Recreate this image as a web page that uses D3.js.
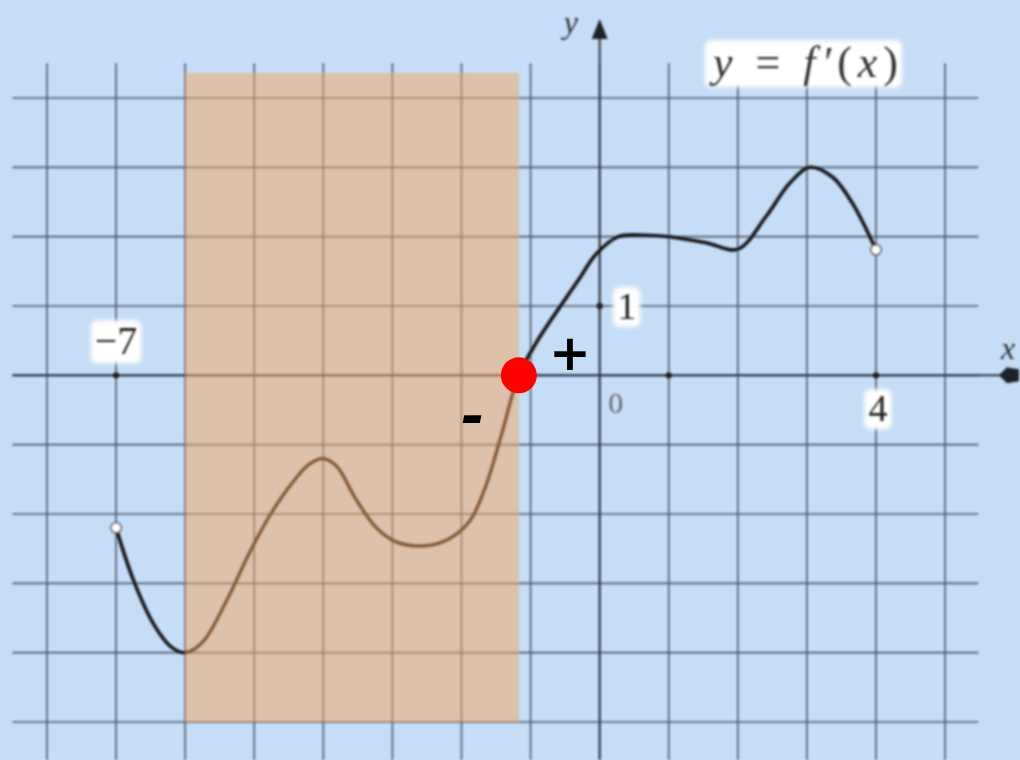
<!DOCTYPE html>
<html>
<head>
<meta charset="utf-8">
<script src="https://cdn.jsdelivr.net/npm/d3@7"></script>
<style>
  html, body { margin: 0; padding: 0; background: #c6ddf7; }
  svg { display: block; }
</style>
</head>
<body>
<div id="chart"></div>
<script>
// grid values
const xTicks = d3.range(-8, 6);   // vertical grid lines
const yTicks = d3.range(-5, 5);   // horizontal grid lines

// graph of y = f'(x)
const curveX = [-7, -6.75, -6.45, -6.2, -6, -5.75, -5.4, -5.07, -4.75, -4.45, -4.2, -4.0, -3.8, -3.55, -3.25, -2.95, -2.55, -2.2, -1.88, -1.65, -1.42, -1.17, -0.9, -0.31, -0.05, 0.27, 0.67, 1.0, 1.55, 2.0, 2.4, 2.75, 3.04, 3.37, 3.66, 4.0];
const curveY = [-2.2, -2.95, -3.6, -3.92, -4.0, -3.85, -3.25, -2.56, -1.98, -1.55, -1.28, -1.2, -1.32, -1.75, -2.18, -2.4, -2.46, -2.37, -2.1, -1.6, -0.85, 0, 0.5, 1.37, 1.75, 2.0, 2.02, 2.0, 1.91, 1.82, 2.28, 2.77, 3.0, 2.86, 2.48, 1.81];

// shaded interval and the zero of f'
const shade = { from: -6, to: -1.17, bottom: -5, top: 4.36 };
const zeroX = -1.17;

// labels on the axes
const axisLabels = [
  { text: "\u22127", x: -7, y: 0, dx: 0, dy: -21, size: 40, halo: true, color: "#222" },
  { text: "1", x: 0, y: 1, dx: 27, dy: 13, size: 38, halo: true, color: "#222" },
  { text: "4", x: 4, y: 0, dx: 2, dy: 46, size: 38, halo: true, color: "#222" },
  { text: "0", x: 0, y: 0, dx: 16, dy: 38, size: 30, halo: false, color: "#666" }
];

const width = 1020;
const height = 760;
const serif = "Liberation Serif, DejaVu Serif, serif";

const x = d3.scaleLinear().domain([-8, 4]).range([47, 876]);
const y = d3.scaleLinear().domain([-5, 4]).range([722, 98]);

const svg = d3.select("#chart").append("svg")
  .attr("width", width)
  .attr("height", height);

const defs = svg.append("defs");
defs.append("filter").attr("id", "soft")
  .attr("x", "-5%").attr("y", "-5%").attr("width", "110%").attr("height", "110%")
  .append("feGaussianBlur").attr("stdDeviation", 0.8);
defs.append("filter").attr("id", "glow")
  .attr("x", "-20%").attr("y", "-20%").attr("width", "140%").attr("height", "140%")
  .append("feGaussianBlur").attr("stdDeviation", 2);

svg.append("rect").attr("width", width).attr("height", height).attr("fill", "#c6ddf7");

const g = svg.append("g").attr("filter", "url(#soft)");

// grid
const grid = g.append("g").attr("stroke", "#4d5b6b").attr("stroke-width", 1.6);
grid.selectAll(".v").data(xTicks).enter().append("line")
  .attr("x1", d => x(d)).attr("x2", d => x(d))
  .attr("y1", y(4.5)).attr("y2", height);
grid.selectAll(".h").data(yTicks).enter().append("line")
  .attr("x1", x(-8.5)).attr("x2", x(5.48))
  .attr("y1", d => y(d)).attr("y2", d => y(d));

// axes
const axes = g.append("g").attr("stroke", "#2a3440").attr("stroke-width", 2);
axes.append("line").attr("x1", x(-8.5)).attr("x2", x(5.8)).attr("y1", y(0)).attr("y2", y(0));
axes.append("line").attr("x1", x(0)).attr("x2", x(0)).attr("y1", height).attr("y2", y(4.85));

// arrow heads
g.append("path")
  .attr("d", `M${x(0)},${y(4.85) - 20} L${x(0) + 8},${y(4.85)} L${x(0) - 8},${y(4.85)} Z`)
  .attr("fill", "#1d232b");
g.append("path")
  .attr("d", `M${x(5.78)},${y(0)} L${x(5.78) + 8},${y(0) - 8} L${x(5.78) + 20},${y(0) - 6} L${x(5.78) + 20},${y(0) + 6} L${x(5.78) + 8},${y(0) + 8} Z`)
  .attr("fill", "#1d232b");

// unit ticks
g.selectAll(".tick").data([[-7, 0], [1, 0], [0, 1], [4, 0]]).enter().append("circle")
  .attr("cx", d => x(d[0])).attr("cy", d => y(d[1])).attr("r", 3.2)
  .attr("fill", "#1d232b");

// curve
const pts = curveX.map((d, i) => [d, curveY[i]]);
const line = d3.line()
  .x(d => x(d[0])).y(d => y(d[1]))
  .curve(d3.curveCatmullRom.alpha(0.5));
g.append("path").datum(pts)
  .attr("d", line)
  .attr("fill", "none")
  .attr("stroke", "#151515")
  .attr("stroke-width", 3.6)
  .attr("stroke-linecap", "round");

// open end points
g.selectAll(".end").data([pts[0], pts[pts.length - 1]]).enter().append("circle")
  .attr("cx", d => x(d[0])).attr("cy", d => y(d[1])).attr("r", 5)
  .attr("fill", "#ffffff").attr("stroke", "#444").attr("stroke-width", 1.5);

// shaded interval
g.append("rect")
  .attr("x", x(shade.from)).attr("width", x(shade.to) - x(shade.from))
  .attr("y", y(shade.top)).attr("height", y(shade.bottom) - y(shade.top))
  .attr("fill", "#f4a660").attr("fill-opacity", 0.5);

// labels
const boxes = svg.append("g");
const labels = svg.append("g").attr("font-family", serif).attr("filter", "url(#soft)");

const nums = labels.selectAll(".num").data(axisLabels).enter().append("text")
  .attr("x", d => x(d.x) + d.dx).attr("y", d => y(d.y) + d.dy)
  .attr("text-anchor", "middle")
  .attr("font-size", d => d.size)
  .attr("fill", d => d.color)
  .text(d => d.text);

labels.append("text")
  .attr("x", x(0) - 36).attr("y", y(4.85) - 6)
  .attr("font-size", 32).attr("font-style", "italic").attr("fill", "#333")
  .text("y");
labels.append("text")
  .attr("x", x(5.78) + 2).attr("y", y(0) - 16)
  .attr("font-size", 32).attr("font-style", "italic").attr("fill", "#333")
  .text("x");

const title = labels.append("text")
  .attr("x", x(1.64)).attr("y", y(4.3))
  .attr("font-size", 44).attr("fill", "#333")
  .attr("textLength", 185).attr("lengthAdjust", "spacing");
title.append("tspan").attr("font-style", "italic").text("y");
title.append("tspan").text(" = ");
title.append("tspan").attr("font-style", "italic").text("f\u2032");
title.append("tspan").text("(");
title.append("tspan").attr("font-style", "italic").text("x");
title.append("tspan").text(")");

// white boxes behind the labels
const boxed = nums.filter(d => d.halo).nodes().concat([title.node()]);
boxed.forEach(n => {
  const b = n.getBBox();
  boxes.append("rect")
    .attr("x", b.x - 4).attr("y", b.y + 2)
    .attr("width", b.width + 8).attr("height", b.height - 2)
    .attr("rx", 6)
    .attr("fill", "#ffffff")
    .attr("filter", "url(#glow)");
});

// zero of f' and the signs (crisp, drawn on top)
svg.append("circle")
  .attr("cx", x(zeroX)).attr("cy", y(0)).attr("r", 18)
  .attr("fill", "#ff0000");
svg.append("text")
  .attr("x", x(zeroX) + 51).attr("y", y(0) - 5)
  .attr("text-anchor", "middle")
  .attr("font-family", "DejaVu Sans, sans-serif").attr("font-weight", "bold")
  .attr("font-size", 50).attr("fill", "#000")
  .text("+");
svg.append("text")
  .attr("x", x(zeroX) - 46).attr("y", y(0) + 60)
  .attr("text-anchor", "middle")
  .attr("font-family", "DejaVu Sans, sans-serif").attr("font-weight", "bold")
  .attr("font-style", "italic")
  .attr("font-size", 56).attr("fill", "#000")
  .text("-");
</script>
</body>
</html>
